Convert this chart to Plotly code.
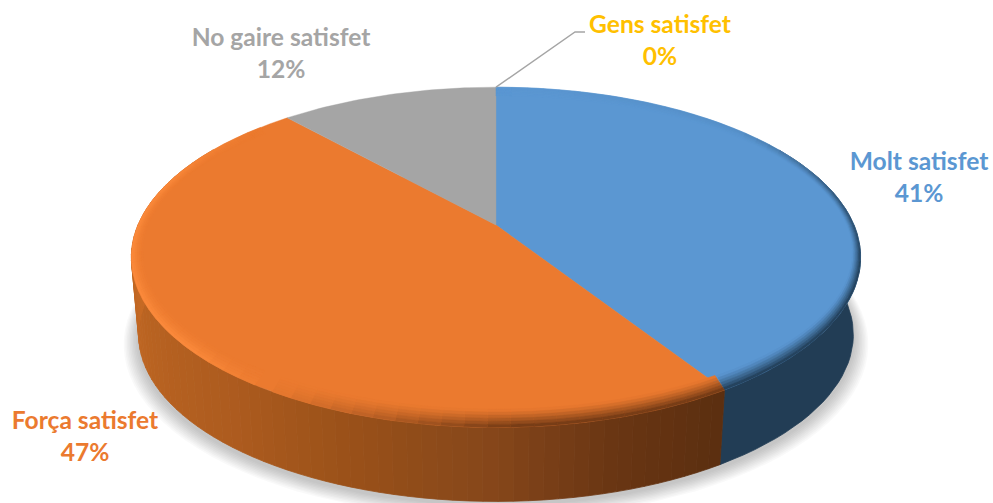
import math
import plotly.graph_objects as go

categories = ["Molt satisfet", "Força satisfet", "No gaire satisfet", "Gens satisfet"]
values = [41.0, 47.4, 11.6, 0.0]
colors = ["#5B97D2", "#EB7A2F", "#A5A5A5", "#FFC000"]
label_x = [919, 85, 281, 660]
label_y = [180, 439, 56, 43]

W, H = 993, 503
CX, CY = 496, 225
P = 0.19
KY = 164
KX = 358
WALL_DY = 78
WALL_S = 0.98


def project(u, v, dy=0.0, s=1.0):
    d = 1 - P * v
    return CX + s * KX * u / d, CY + dy + s * KY * v / d


def rim(theta, a=1.0, b=1.0, dy=0.0, s=1.0):
    t = math.radians(theta)
    return project(a * math.sin(t), -b * math.cos(t), dy, s)


def rgb(h):
    return tuple(int(h[i:i + 2], 16) for i in (1, 3, 5))


def mix(c1, c2, t):
    t = max(0.0, min(1.0, t))
    return tuple(c1[i] + (c2[i] - c1[i]) * t for i in range(3))


def css(c):
    return "rgb(%d,%d,%d)" % tuple(round(x) for x in c)


def as_rgb(c):
    return rgb(c) if isinstance(c, str) else c


def interp(stops, x):
    if x <= stops[0][0]:
        return as_rgb(stops[0][1])
    for (a, ca), (b, cb) in zip(stops, stops[1:]):
        if x <= b:
            return mix(as_rgb(ca), as_rgb(cb), (x - a) / (b - a))
    return as_rgb(stops[-1][1])


def ramp(stops, x):
    if x <= stops[0][0]:
        return stops[0][1]
    for (a, ca), (b, cb) in zip(stops, stops[1:]):
        if x <= b:
            return ca + (cb - ca) * (x - a) / (b - a)
    return stops[-1][1]


ORANGE_WALL = [(149, "#5C2F10"), (165, "#6A3613"), (180, "#85461A"), (200, "#9A5119"),
               (220, "#AE5C1F"), (250, "#BD6522"), (280, "#CB6D26")]
BLUE_WALL_COLOR = "#223D55"

fig = go.Figure()


def poly(pts, color, line=0.8):
    pts = list(pts) + [pts[0]]
    fig.add_trace(go.Scatter(x=[p[0] for p in pts], y=[p[1] for p in pts], mode="lines",
                             fill="toself", fillcolor=color,
                             line=dict(color=color, width=line), hoverinfo="skip",
                             showlegend=False))


# soft shadow below the pie
for i in range(10):
    grow = 1 + (10 - i) * 0.0042
    pts = [rim(a, 1, 1, WALL_DY + 3 + (10 - i) * 0.55, WALL_S * grow) for a in range(0, 361, 3)]
    fig.add_trace(go.Scatter(x=[p[0] for p in pts], y=[p[1] for p in pts], mode="lines",
                             fill="toself", fillcolor="rgba(0,0,0,0.024)",
                             line=dict(width=0), hoverinfo="skip", showlegend=False))

total = sum(values)
spans = []
start = 0.0
for val in values:
    end = start + 360 * val / total
    spans.append((start, end))
    start = end

# side wall of the first slice: one flat dark polygon
a0, a1 = spans[0]
steps = [60 + (a1 - 60) * k / 40 for k in range(41)]
poly([rim(t) for t in steps] + [rim(t, 1, 1, WALL_DY, WALL_S) for t in reversed(steps)], BLUE_WALL_COLOR)

# side wall of the second slice: thin vertical bands for the gradient
a0, a1 = spans[1]
n = int((a1 - a0) / 2)
for k in range(n):
    t0 = a0 + (a1 - a0) * k / n
    t1 = a0 + (a1 - a0) * (k + 1) / n
    mid = (t0 + t1) / 2
    if mid > 300:
        continue
    poly([rim(t0), rim(t1), rim(t1, 1, 1, WALL_DY, WALL_S), rim(t0, 1, 1, WALL_DY, WALL_S)],
         css(interp(ORANGE_WALL, mid)))

# top face
for (a0, a1), col in zip(spans, colors):
    if a1 <= a0:
        continue
    n = max(2, int(a1 - a0))
    poly([(CX, CY)] + [rim(a0 + (a1 - a0) * k / n) for k in range(n + 1)], col, line=0.4)


def rim_target(idx, theta):
    """Colour and strength of the bevel at a rim angle."""
    if idx == 0:
        return rgb("#1E3950"), ramp([(0, 0), (50, 0.1), (80, 0.75), (105, 1.0), (150, 1.0)], theta)
    if theta < 215:
        return rgb("#6A3613"), ramp([(149, 1), (178, 1), (195, 0.45), (212, 0)], theta)
    return rgb("#FC8B3C"), ramp([(212, 0), (228, 1), (285, 1), (312, 0)], theta)


# bevel round the rim
RINGS = 6
for idx, ((a0, a1), col) in enumerate(zip(spans, colors)):
    if a1 <= a0 or idx > 1:
        continue
    n = max(2, int((a1 - a0) / 3))
    base = rgb(col)
    da = 0.02 if idx == 0 else 0.028
    for k in range(n):
        t0 = a0 + (a1 - a0) * k / n
        t1 = a0 + (a1 - a0) * (k + 1) / n
        target, strength = rim_target(idx, (t0 + t1) / 2)
        if strength <= 0:
            continue
        for j in range(RINGS):
            f0 = j / RINGS
            f1 = (j + 1) / RINGS
            a_in, b_in = 1 - da * (1 - f0), 1 - 0.075 * (1 - f0)
            a_out, b_out = 1 - da * (1 - f1), 1 - 0.075 * (1 - f1)
            m = (f0 + f1) / 2
            poly([rim(t0, a_in, b_in), rim(t1, a_in, b_in), rim(t1, a_out, b_out), rim(t0, a_out, b_out)],
                 css(mix(base, target, strength * m ** 1.3)), line=0.5)

# leader line for the empty slice
lead_start = rim(spans[3][0])
fig.add_trace(go.Scatter(x=[lead_start[0], 575, 585], y=[lead_start[1], 32, 32], mode="lines",
                         line=dict(color="#A5A5A5", width=1.4), hoverinfo="skip", showlegend=False))

# labels
for name, val, col, lx, ly in zip(categories, values, colors, label_x, label_y):
    text = "%s<br>%d%%" % (name, round(100 * val / total))
    fig.add_trace(go.Scatter(x=[lx], y=[ly], mode="text", text=[text], textposition="middle center",
                             textfont=dict(family="Lato", size=24.6, color=col, weight="bold"),
                             hoverinfo="skip", showlegend=False))

fig.update_layout(width=W, height=H, margin=dict(l=0, r=0, t=0, b=0), autosize=False,
                  paper_bgcolor="white", plot_bgcolor="white",
                  xaxis=dict(range=[0, W], visible=False, fixedrange=True),
                  yaxis=dict(range=[H, 0], visible=False, fixedrange=True))
fig.write_html("out.html", config={"displayModeBar": False},
               post_script="document.body.style.margin='0';document.body.style.overflow='hidden';")
